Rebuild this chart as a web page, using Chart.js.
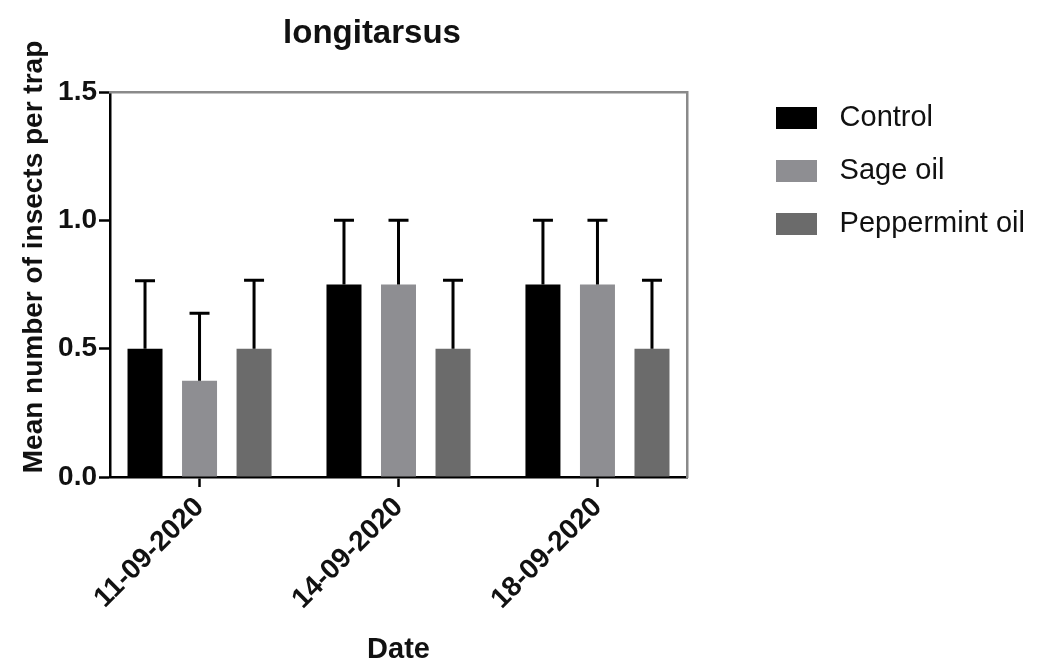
<!DOCTYPE html>
<html>
<head>
<meta charset="utf-8">
<title>longitarsus</title>
<script src="https://cdn.jsdelivr.net/npm/chart.js@4.4.1/dist/chart.umd.min.js"></script>
<style>
  html, body { margin: 0; padding: 0; background: #fff; }
  #wrap { width: 1040px; height: 664px; }
</style>
</head>
<body>
<div id="wrap"><canvas id="chart" width="1040" height="664"></canvas></div>
<script>
const chartTitle = 'longitarsus';
const yTitle = 'Mean number of insects per trap';
const xTitle = 'Date';

const dates = ['11-09-2020', '14-09-2020', '18-09-2020'];
const yTicks = [0, 0.5, 1.0, 1.5];

const seriesNames = ['Control', 'Sage oil', 'Peppermint oil'];
const seriesColors = ['#000000', '#8e8e92', '#6b6b6b'];

const controlMeans = [0.5, 0.75, 0.75];
const controlErrors = [0.265, 0.25, 0.25];
const sageMeans = [0.375, 0.75, 0.75];
const sageErrors = [0.263, 0.25, 0.25];
const peppermintMeans = [0.5, 0.5, 0.5];
const peppermintErrors = [0.267, 0.267, 0.267];

const FONT = '"Liberation Sans", Arial, Helvetica, sans-serif';
Chart.defaults.font.family = FONT;
Chart.defaults.color = '#111';

// build one bar dataset per treatment, x = 1, 2, 3 (one per date)
const makeDataset = (name, color, means, errors) => ({
    label: name,
    data: means.map((m, i) => ({ x: i + 1, y: m })),
    errors: errors,
    backgroundColor: color,
    borderWidth: 0,
    barPercentage: 0.642,
    categoryPercentage: 0.822
});

const datasets = [
    makeDataset(seriesNames[0], seriesColors[0], controlMeans, controlErrors),
    makeDataset(seriesNames[1], seriesColors[1], sageMeans, sageErrors),
    makeDataset(seriesNames[2], seriesColors[2], peppermintMeans, peppermintErrors)
];

// upper error bars (mean + SEM) with a cap
const errorBars = {
    id: 'errorBars',
    afterDatasetsDraw(chart) {
        const ctx = chart.ctx;
        const yScale = chart.scales.y;
        ctx.save();
        ctx.strokeStyle = '#000';
        ctx.lineWidth = 3;
        chart.data.datasets.forEach((ds, i) => {
            const meta = chart.getDatasetMeta(i);
            meta.data.forEach((bar, j) => {
                const top = yScale.getPixelForValue(ds.data[j].y + ds.errors[j]);
                ctx.beginPath();
                ctx.moveTo(bar.x, bar.y);
                ctx.lineTo(bar.x, top);
                ctx.moveTo(bar.x - 10, top);
                ctx.lineTo(bar.x + 10, top);
                ctx.stroke();
            });
        });
        ctx.restore();
    }
};

// chart title and y axis title, placed like the GraphPad original
const titles = {
    id: 'titles',
    afterDraw(chart) {
        const ctx = chart.ctx;
        ctx.save();
        ctx.fillStyle = '#111';
        ctx.textAlign = 'center';
        ctx.textBaseline = 'alphabetic';
        ctx.font = 'bold 33px ' + FONT;
        ctx.fillText(chartTitle, 372, 42.5);

        ctx.translate(34, 257);
        ctx.rotate(-Math.PI / 2);
        ctx.textBaseline = 'middle';
        ctx.font = 'bold 28px ' + FONT;
        ctx.fillText(yTitle, 0, 0);
        ctx.restore();
    }
};

const frameColor = '#8a8a8a';

new Chart(document.getElementById('chart'), {
    type: 'bar',
    data: { datasets: datasets },
    options: {
        responsive: false,
        animation: false,
        layout: { padding: { top: 79.5, right: 13, bottom: 0, left: 0 } },
        scales: {
            x: {
                type: 'linear',
                position: 'bottom',
                min: 0.55,
                max: 3.45,
                offset: false,
                afterBuildTicks: s => { s.ticks = dates.map((d, i) => ({ value: i + 1 })); },
                afterFit: s => { s.height = 187; },
                ticks: {
                    callback: v => dates[v - 1],
                    minRotation: 45,
                    maxRotation: 45,
                    autoSkip: false,
                    padding: 4,
                    color: '#111',
                    font: { size: 28, weight: 'bold' }
                },
                grid: { offset: false, drawOnChartArea: false, tickLength: 10, tickWidth: 2.5, tickColor: '#000' },
                border: { color: '#000', width: 2.5 },
                title: {
                    display: true,
                    text: xTitle,
                    color: '#111',
                    padding: 0,
                    font: { size: 29, weight: 'bold', lineHeight: 1 }
                }
            },
            y: {
                min: 0,
                max: 1.5,
                afterBuildTicks: s => { s.ticks = yTicks.map(v => ({ value: v })); },
                afterFit: s => { s.width = 110; },
                ticks: {
                    callback: v => v.toFixed(1),
                    padding: 2,
                    color: '#111',
                    font: { size: 28, weight: 'bold' }
                },
                grid: { drawOnChartArea: false, tickLength: 11, tickWidth: 2.5, tickColor: '#000' },
                border: { color: '#000', width: 2.5 }
            },
            // top and right frame lines
            xTop: {
                type: 'linear',
                position: 'top',
                ticks: { display: false },
                grid: { display: false },
                border: { color: frameColor, width: 2.5 },
                afterFit: s => { s.height = 12.5; }
            },
            yRight: {
                type: 'linear',
                position: 'right',
                ticks: { display: false },
                grid: { display: false },
                border: { color: frameColor, width: 2.5 },
                afterFit: s => { s.width = 65; }
            }
        },
        plugins: {
            tooltip: { enabled: false },
            legend: {
                position: 'right',
                align: 'start',
                maxWidth: 275,
                labels: {
                    boxWidth: 41,
                    boxHeight: 22,
                    padding: 24,
                    color: '#111',
                    font: { size: 29 },
                    generateLabels: chart => Chart.defaults.plugins.legend.labels.generateLabels(chart)
                        .map(item => Object.assign(item, { text: ' ' + item.text }))
                }
            }
        }
    },
    plugins: [errorBars, titles]
});
</script>
</body>
</html>
